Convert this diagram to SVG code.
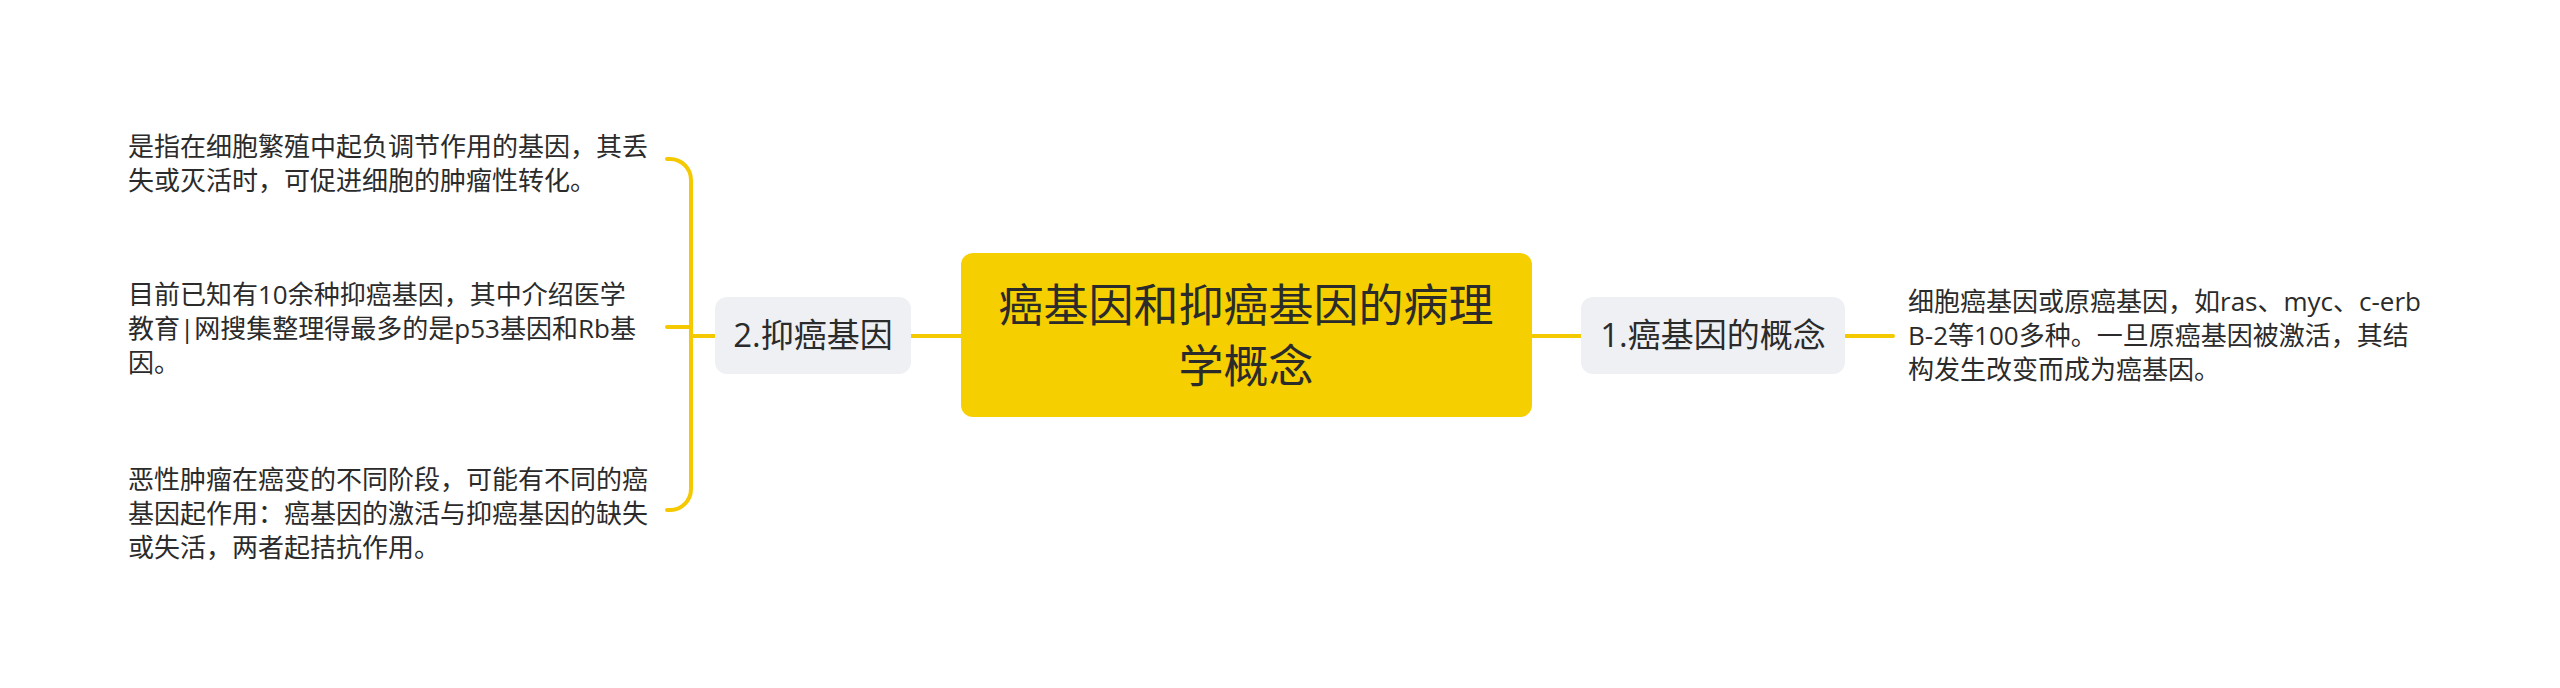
<svg xmlns="http://www.w3.org/2000/svg" width="2560" height="688" viewBox="0 0 2560 688">
<style>
.t{font-family:"Open Sans","Noto Sans CJK SC",sans-serif;fill:#2b2b2b}
.leaf{font-size:26px}
.sub{font-size:33px;text-anchor:middle}
.root{font-size:45px;text-anchor:middle}
.ln{fill:none;stroke:#F5C900;stroke-width:4;stroke-linecap:round}
.subbox{fill:#EEF0F4}
</style>
<rect width="2560" height="688" fill="#ffffff"/>
<g id="connectors">
<path class="ln" d="M911 336H961"/>
<path class="ln" d="M1532 336H1581"/>
<path class="ln" d="M1845 336H1893"/>
<path class="ln" d="M691 336H715"/>
<path class="ln" d="M667 159H670A21 21 0 0 1 691 180V489A21 21 0 0 1 670 510H667"/>
<path class="ln" d="M667 327H691"/>
</g>
<g id="root">
<rect x="961" y="253" width="571" height="164" rx="12" fill="#F5CF00"/>
<text class="t root" x="1246" y="322">癌基因和抑癌基因的病理</text>
<text class="t root" x="1246" y="383">学概念</text>
</g>
<g id="node1">
<rect class="subbox" x="1581" y="297" width="264" height="77" rx="12"/>
<text class="t sub" x="1713" y="347">1.癌基因的概念</text>
</g>
<g id="node2">
<rect class="subbox" x="715" y="297" width="196" height="77" rx="12"/>
<text class="t sub" x="813" y="347">2.抑癌基因</text>
</g>
<g id="leaf1">
<text class="t leaf" x="1908" y="311">细胞癌基因或原癌基因，如ras、myc、c-erb</text>
<text class="t leaf" x="1908" y="345">B-2等100多种。一旦原癌基因被激活，其结</text>
<text class="t leaf" x="1908" y="379">构发生改变而成为癌基因。</text>
</g>
<g id="leaf2a">
<text class="t leaf" x="128" y="156">是指在细胞繁殖中起负调节作用的基因，其丢</text>
<text class="t leaf" x="128" y="190">失或灭活时，可促进细胞的肿瘤性转化。</text>
</g>
<g id="leaf2b">
<text class="t leaf" x="128" y="304">目前已知有10余种抑癌基因，其中介绍医学</text>
<text class="t leaf" x="128" y="338">教育|网搜集整理得最多的是p53基因和Rb基</text>
<text class="t leaf" x="128" y="372">因。</text>
</g>
<g id="leaf2c">
<text class="t leaf" x="128" y="489">恶性肿瘤在癌变的不同阶段，可能有不同的癌</text>
<text class="t leaf" x="128" y="523">基因起作用：癌基因的激活与抑癌基因的缺失</text>
<text class="t leaf" x="128" y="557">或失活，两者起拮抗作用。</text>
</g>
</svg>
